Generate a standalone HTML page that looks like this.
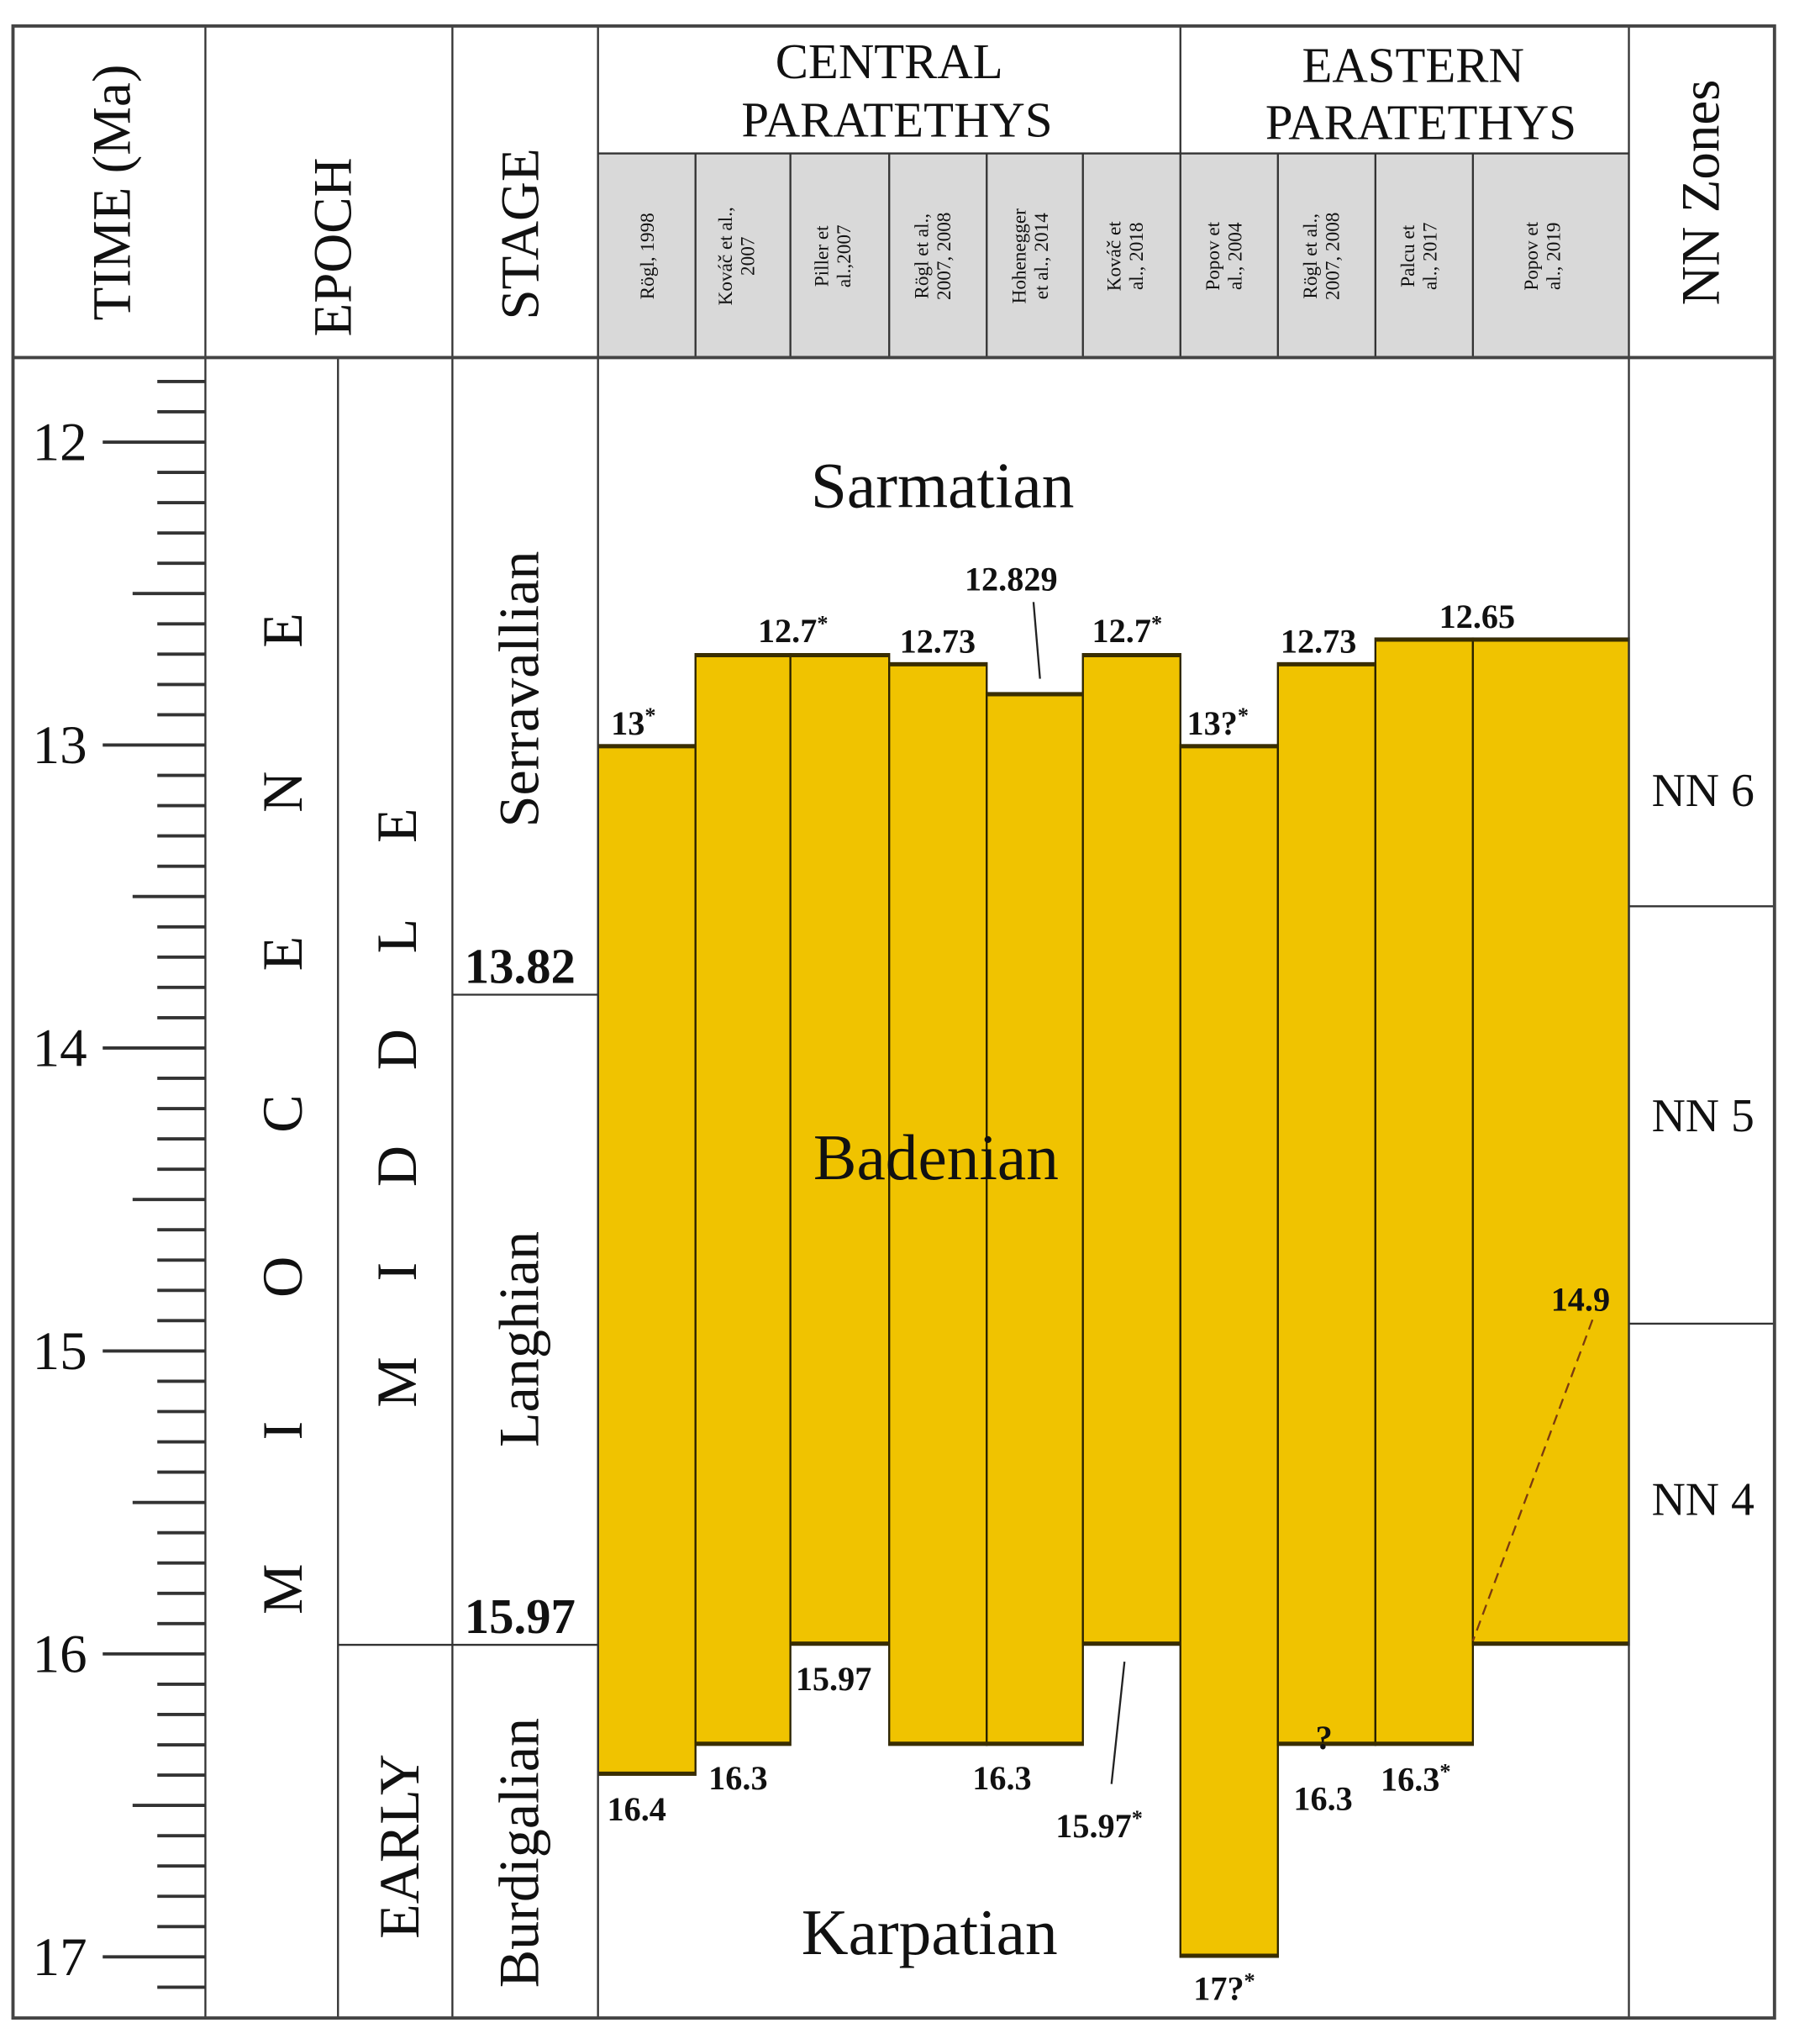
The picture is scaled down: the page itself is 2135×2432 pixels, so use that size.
<!DOCTYPE html>
<html><head><meta charset="utf-8"><style>
html,body{margin:0;padding:0;background:#fff;}
svg{display:block;}
text{font-family:"Liberation Serif",serif;fill:#111;}
</style></head><body>
<svg width="2135" height="2432" viewBox="0 0 1380 1572" preserveAspectRatio="none" xmlns="http://www.w3.org/2000/svg">
<rect x="0" y="0" width="1380" height="1572" fill="#fff"/>
<rect x="460" y="118" width="793" height="157" fill="#d9d9d9"/>
<g fill="#f0c300" stroke="#2a2200" stroke-width="1.5">
<rect x="460" y="573" width="75" height="792"/>
<rect x="535" y="503" width="73" height="839"/>
<rect x="608" y="503" width="76" height="762"/>
<rect x="684" y="510" width="75" height="832"/>
<rect x="759" y="533" width="74" height="809"/>
<rect x="833" y="503" width="75" height="762"/>
<rect x="908" y="573" width="75" height="932"/>
<rect x="983" y="510" width="75" height="832"/>
<rect x="1058" y="491" width="75" height="851"/>
<rect x="1133" y="491" width="120" height="774"/>
</g>
<g stroke="#3a2e00" stroke-width="3">
<line x1="460" y1="574" x2="535" y2="574"/><line x1="535" y1="504" x2="684" y2="504"/>
<line x1="684" y1="511" x2="759" y2="511"/><line x1="759" y1="534" x2="833" y2="534"/>
<line x1="833" y1="504" x2="908" y2="504"/><line x1="908" y1="574" x2="983" y2="574"/>
<line x1="983" y1="511" x2="1058" y2="511"/><line x1="1058" y1="492" x2="1253" y2="492"/>
<line x1="460" y1="1364" x2="535" y2="1364"/><line x1="535" y1="1341" x2="608" y2="1341"/>
<line x1="608" y1="1264" x2="684" y2="1264"/><line x1="684" y1="1341" x2="833" y2="1341"/>
<line x1="833" y1="1264" x2="908" y2="1264"/><line x1="908" y1="1504" x2="983" y2="1504"/>
<line x1="983" y1="1341" x2="1133" y2="1341"/><line x1="1133" y1="1264" x2="1253" y2="1264"/>
</g>
<g stroke="#333" stroke-width="1.5" fill="none">
<line x1="158" y1="20" x2="158" y2="1552"/>
<line x1="260" y1="275" x2="260" y2="1552"/>
<line x1="348" y1="20" x2="348" y2="1552"/>
<line x1="460" y1="20" x2="460" y2="1552"/>
<line x1="908" y1="20" x2="908" y2="275"/>
<line x1="1253" y1="20" x2="1253" y2="1552"/>
<line x1="460" y1="118" x2="1253" y2="118"/>
<line x1="535" y1="118" x2="535" y2="275"/><line x1="608" y1="118" x2="608" y2="275"/>
<line x1="684" y1="118" x2="684" y2="275"/><line x1="759" y1="118" x2="759" y2="275"/>
<line x1="833" y1="118" x2="833" y2="275"/><line x1="983" y1="118" x2="983" y2="275"/>
<line x1="1058" y1="118" x2="1058" y2="275"/><line x1="1133" y1="118" x2="1133" y2="275"/>
<line x1="348" y1="765" x2="460" y2="765"/>
<line x1="260" y1="1265" x2="460" y2="1265"/>
<line x1="1253" y1="697" x2="1365" y2="697"/>
<line x1="1253" y1="1018" x2="1365" y2="1018"/>
</g>
<g stroke="#444" stroke-width="2.5" fill="none">
<rect x="10" y="20" width="1355" height="1532"/>
<line x1="10" y1="275" x2="1365" y2="275"/>
</g>
<g stroke="#333" stroke-width="2.5">
<line x1="121" y1="293.4" x2="158" y2="293.4"/><line x1="121" y1="316.7" x2="158" y2="316.7"/>
<line x1="79" y1="340" x2="158" y2="340"/>
<line x1="121" y1="363.3" x2="158" y2="363.3"/><line x1="121" y1="386.6" x2="158" y2="386.6"/><line x1="121" y1="409.9" x2="158" y2="409.9"/><line x1="121" y1="433.2" x2="158" y2="433.2"/><line x1="102" y1="456.5" x2="158" y2="456.5"/><line x1="121" y1="479.8" x2="158" y2="479.8"/><line x1="121" y1="503.1" x2="158" y2="503.1"/><line x1="121" y1="526.4" x2="158" y2="526.4"/><line x1="121" y1="549.7" x2="158" y2="549.7"/>
<line x1="79" y1="573" x2="158" y2="573"/>
<line x1="121" y1="596.3" x2="158" y2="596.3"/><line x1="121" y1="619.6" x2="158" y2="619.6"/><line x1="121" y1="642.9" x2="158" y2="642.9"/><line x1="121" y1="666.2" x2="158" y2="666.2"/><line x1="102" y1="689.5" x2="158" y2="689.5"/><line x1="121" y1="712.8" x2="158" y2="712.8"/><line x1="121" y1="736.1" x2="158" y2="736.1"/><line x1="121" y1="759.4" x2="158" y2="759.4"/><line x1="121" y1="782.7" x2="158" y2="782.7"/>
<line x1="79" y1="806" x2="158" y2="806"/>
<line x1="121" y1="829.3" x2="158" y2="829.3"/><line x1="121" y1="852.6" x2="158" y2="852.6"/><line x1="121" y1="875.9" x2="158" y2="875.9"/><line x1="121" y1="899.2" x2="158" y2="899.2"/><line x1="102" y1="922.5" x2="158" y2="922.5"/><line x1="121" y1="945.8" x2="158" y2="945.8"/><line x1="121" y1="969.1" x2="158" y2="969.1"/><line x1="121" y1="992.4" x2="158" y2="992.4"/><line x1="121" y1="1015.7" x2="158" y2="1015.7"/>
<line x1="79" y1="1039" x2="158" y2="1039"/>
<line x1="121" y1="1062.3" x2="158" y2="1062.3"/><line x1="121" y1="1085.6" x2="158" y2="1085.6"/><line x1="121" y1="1108.9" x2="158" y2="1108.9"/><line x1="121" y1="1132.2" x2="158" y2="1132.2"/><line x1="102" y1="1155.5" x2="158" y2="1155.5"/><line x1="121" y1="1178.8" x2="158" y2="1178.8"/><line x1="121" y1="1202.1" x2="158" y2="1202.1"/><line x1="121" y1="1225.4" x2="158" y2="1225.4"/><line x1="121" y1="1248.7" x2="158" y2="1248.7"/>
<line x1="79" y1="1272" x2="158" y2="1272"/>
<line x1="121" y1="1295.3" x2="158" y2="1295.3"/><line x1="121" y1="1318.6" x2="158" y2="1318.6"/><line x1="121" y1="1341.9" x2="158" y2="1341.9"/><line x1="121" y1="1365.2" x2="158" y2="1365.2"/><line x1="102" y1="1388.5" x2="158" y2="1388.5"/><line x1="121" y1="1411.8" x2="158" y2="1411.8"/><line x1="121" y1="1435.1" x2="158" y2="1435.1"/><line x1="121" y1="1458.4" x2="158" y2="1458.4"/><line x1="121" y1="1481.7" x2="158" y2="1481.7"/>
<line x1="79" y1="1505" x2="158" y2="1505"/>
<line x1="121" y1="1528.3" x2="158" y2="1528.3"/>
</g>
<g font-size="42" text-anchor="middle">
<text x="46" y="354">12</text><text x="46" y="587">13</text><text x="46" y="820">14</text>
<text x="46" y="1053">15</text><text x="46" y="1286">16</text><text x="46" y="1519">17</text>
</g>
<g font-size="42" text-anchor="middle">
<text transform="translate(100,148) rotate(-90)">TIME  (Ma)</text>
<text transform="translate(270,190) rotate(-90)">EPOCH</text>
<text transform="translate(414,180) rotate(-90)">STAGE</text>
<text transform="translate(1322,148) rotate(-90)">NN Zones</text>
</g>
<g font-size="38" text-anchor="middle">
<text x="684" y="60">CENTRAL</text><text x="690" y="105">PARATETHYS</text>
<text x="1087" y="63">EASTERN</text><text x="1093" y="107">PARATETHYS</text>
</g>
<g font-size="15" text-anchor="middle">
<text transform="translate(503,197) rotate(-90)">Rögl, 1998</text>
<text transform="translate(563,197) rotate(-90)">Kováč et al.,</text><text transform="translate(580,197) rotate(-90)">2007</text>
<text transform="translate(637,197) rotate(-90)">Piller et</text><text transform="translate(654,197) rotate(-90)">al.,2007</text>
<text transform="translate(714,197) rotate(-90)">Rögl et al.,</text><text transform="translate(731,197) rotate(-90)">2007, 2008</text>
<text transform="translate(789,197) rotate(-90)">Hohenegger</text><text transform="translate(806,197) rotate(-90)">et al., 2014</text>
<text transform="translate(862,197) rotate(-90)">Kováč et</text><text transform="translate(879,197) rotate(-90)">al., 2018</text>
<text transform="translate(938,197) rotate(-90)">Popov et</text><text transform="translate(955,197) rotate(-90)">al., 2004</text>
<text transform="translate(1013,197) rotate(-90)">Rögl et al.,</text><text transform="translate(1030,197) rotate(-90)">2007, 2008</text>
<text transform="translate(1088,197) rotate(-90)">Palcu et</text><text transform="translate(1105,197) rotate(-90)">al., 2017</text>
<text transform="translate(1183,197) rotate(-90)">Popov et</text><text transform="translate(1200,197) rotate(-90)">al., 2019</text>
</g>
<g font-size="44" text-anchor="middle">
<text transform="translate(232,809) rotate(-90)" letter-spacing="95">MIOCENE</text>
<text transform="translate(320,823) rotate(-90)" letter-spacing="58">MIDDLE</text>
<text transform="translate(322,1420) rotate(-90)">EARLY</text>
<text transform="translate(414,530) rotate(-90)">Serravallian</text>
<text transform="translate(414,1030) rotate(-90)">Langhian</text>
<text transform="translate(414,1425) rotate(-90)">Burdigalian</text>
</g>
<g font-size="38" font-weight="bold" text-anchor="middle">
<text x="400" y="756">13.82</text><text x="400" y="1256">15.97</text>
</g>
<g font-size="50" text-anchor="middle">
<text x="725" y="390">Sarmatian</text>
<text x="720" y="907">Badenian</text>
<text x="715" y="1503">Karpatian</text>
</g>
<g font-size="36" text-anchor="middle">
<text x="1310" y="620">NN 6</text><text x="1310" y="870">NN 5</text><text x="1310" y="1165">NN 4</text>
</g>
<g font-size="26" font-weight="bold">
<text x="470" y="565">13<tspan font-size="17" dy="-9">*</tspan></text>
<text x="583" y="494">12.7<tspan font-size="17" dy="-9">*</tspan></text>
<text x="692" y="502">12.73</text>
<text x="742" y="454">12.829</text>
<text x="840" y="494">12.7<tspan font-size="17" dy="-9">*</tspan></text>
<text x="913" y="565">13?<tspan font-size="17" dy="-9">*</tspan></text>
<text x="985" y="502">12.73</text>
<text x="1107" y="483">12.65</text>
<text x="1193" y="1008">14.9</text>
<text x="612" y="1300">15.97</text>
<text x="467" y="1400">16.4</text>
<text x="545" y="1376">16.3</text>
<text x="748" y="1376">16.3</text>
<text x="812" y="1413">15.97<tspan font-size="17" dy="-9">*</tspan></text>
<text x="1012" y="1345">?</text>
<text x="995" y="1392">16.3</text>
<text x="1062" y="1377">16.3<tspan font-size="17" dy="-9">*</tspan></text>
<text x="918" y="1538">17?<tspan font-size="17" dy="-9">*</tspan></text>
</g>
<g stroke="#222" stroke-width="1.5">
<line x1="795" y1="463" x2="800" y2="522"/>
<line x1="865" y1="1278" x2="855" y2="1372"/>
<line x1="1225" y1="1015" x2="1133" y2="1262" stroke="#7a3a10" stroke-dasharray="8,5"/>
</g>
</svg>
</body></html>
